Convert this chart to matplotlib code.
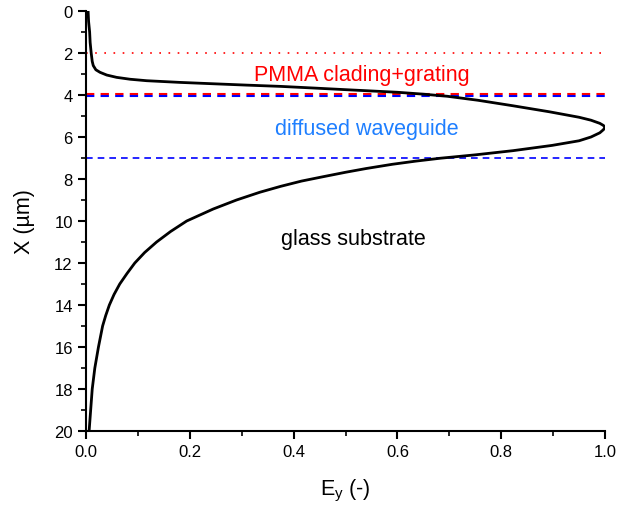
import matplotlib
matplotlib.use('Agg')
import matplotlib.pyplot as plt
from matplotlib.ticker import MultipleLocator

plt.rcParams['font.family'] = ['Liberation Sans', 'DejaVu Sans']

# depth (um) and normalised field Ey
depth = [0.0, 0.5, 1.0, 1.5, 2.0, 2.4, 2.6, 2.8, 2.92, 3.05, 3.16, 3.25, 3.32,
         3.40, 3.47, 3.53, 3.59, 3.67, 3.75, 3.87, 3.96, 4.06, 4.25, 4.51, 4.80,
         5.06, 5.20, 5.35, 5.45, 5.54, 5.65, 5.80, 6.00, 6.18, 6.40, 6.65, 6.85,
         7.01, 7.15, 7.30, 7.50, 7.68, 7.90, 8.10, 8.35, 8.63, 9.00, 9.43, 10.0,
         10.5, 11.0, 11.5, 12.0, 12.5, 13.0, 13.5, 14.0, 14.5, 15.0, 15.5, 16.0,
         17.0, 18.0, 19.0, 20.0]
ey = [0.004, 0.005, 0.007, 0.008, 0.010, 0.012, 0.014, 0.019, 0.027, 0.040,
      0.059, 0.085, 0.117, 0.181, 0.250, 0.310, 0.375, 0.440, 0.503, 0.600,
      0.650, 0.696, 0.755, 0.822, 0.893, 0.950, 0.973, 0.990, 0.997, 1.000,
      0.997, 0.990, 0.973, 0.950, 0.898, 0.823, 0.750, 0.683, 0.635, 0.590,
      0.540, 0.500, 0.455, 0.415, 0.375, 0.335, 0.290, 0.245, 0.194, 0.163,
      0.136, 0.113, 0.094, 0.079, 0.065, 0.054, 0.045, 0.038, 0.032, 0.028,
      0.024, 0.017, 0.012, 0.009, 0.006]

pmma_top = 2.0
pmma_bottom = 4.0
guide_bottom = 7.0

RED = '#FF0000'
BLUE = '#0000FF'
TXT_BLUE = '#1E7FFF'

fig = plt.figure(figsize=(6.25, 5.06), dpi=100)
ax = fig.add_axes([0.1376, 0.1462, 0.8304, 0.8301])

ax.axhline(pmma_top, color=RED, linestyle=(0, (1, 4.5)), linewidth=1.2, zorder=2)
ax.axhline(pmma_bottom - 0.03, color=RED, linestyle=(0, (4, 3)), linewidth=1.5, zorder=2)
ax.axhline(pmma_bottom + 0.04, color=BLUE, linestyle=(0, (4, 3)), linewidth=1.5, zorder=2)
ax.axhline(guide_bottom, color=BLUE, linestyle=(0, (4, 3)), linewidth=1.2, zorder=2)

ax.plot(ey, depth, color='black', linewidth=2, zorder=3)

ax.text(0.531, 3.29, 'PMMA clading+grating', color=RED, fontsize=15.5,
        ha='center', va='baseline')
ax.text(0.542, 5.86, 'diffused waveguide', color=TXT_BLUE, fontsize=15.5,
        ha='center', va='baseline')
ax.text(0.515, 11.1, 'glass substrate', color='black', fontsize=15.5,
        ha='center', va='baseline')

ax.set_xlim(0, 1.0)
ax.set_ylim(20, 0)
ax.xaxis.set_major_locator(MultipleLocator(0.2))
ax.xaxis.set_minor_locator(MultipleLocator(0.1))
ax.yaxis.set_major_locator(MultipleLocator(2))
ax.yaxis.set_minor_locator(MultipleLocator(1))
ax.xaxis.set_major_formatter(plt.FuncFormatter(lambda v, p: f'{v:.1f}'))

for s in ['top', 'right']:
    ax.spines[s].set_visible(False)
for s in ['left', 'bottom']:
    ax.spines[s].set_linewidth(1.5)
ax.tick_params(which='major', direction='out', length=6, width=1.5, labelsize=12)
ax.tick_params(which='minor', direction='out', length=3.5, width=1.2)

ax.set_xlabel('E$_\\mathregular{y}$ (-)', fontsize=15.5, labelpad=13)
ax.set_ylabel('X (µm)', fontsize=15.5, labelpad=14)

fig.savefig('out.png', dpi=100)
